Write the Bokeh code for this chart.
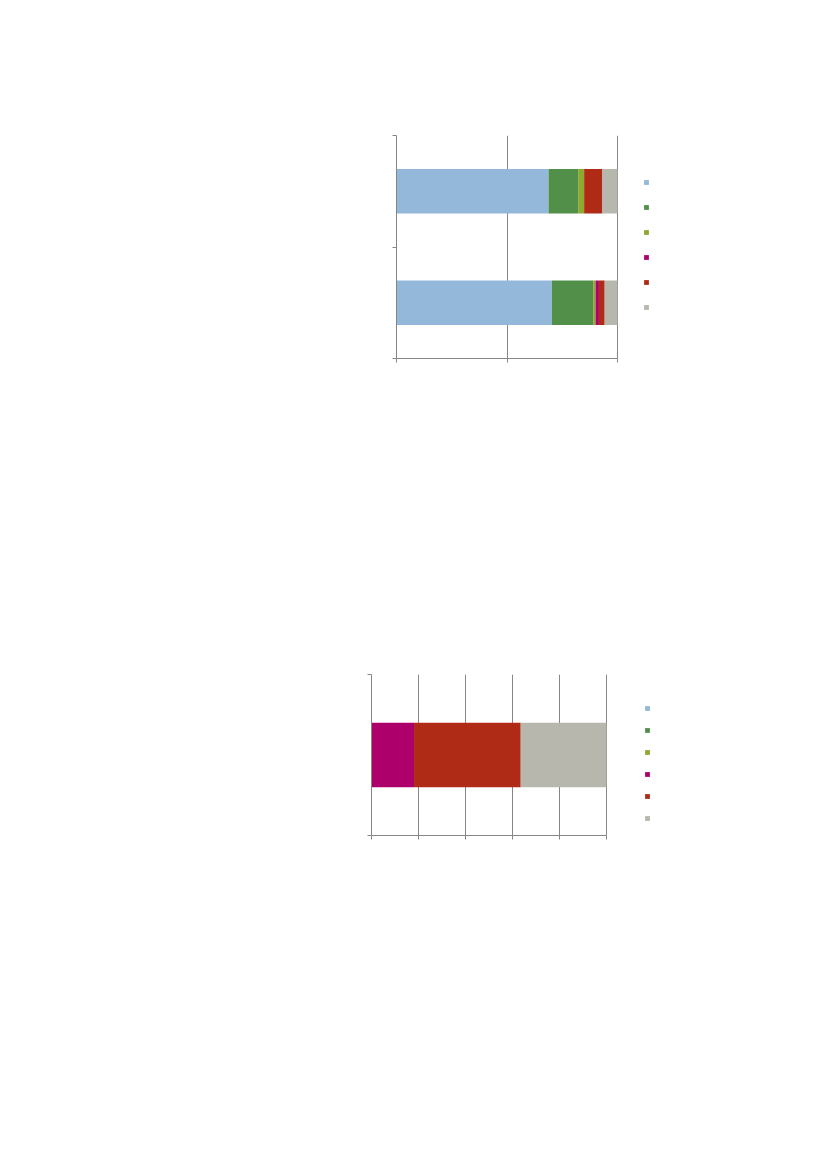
from bokeh.plotting import figure
from bokeh.models import (FixedTicker, CustomJSTickFormatter, Legend, LegendItem,
                          ColumnDataSource, Range1d)
from bokeh.embed import file_html
from bokeh.resources import INLINE

# ---- data ----
series = ["S1", "S2", "S3", "S4", "S5", "S6"]
colors = ["#93B8D9", "#52904A", "#8DA92F", "#AE006B", "#AF2B16", "#B7B7AE"]

# chart 1: two categories (bottom, top), shares in %
cats1 = ["A", "B"]
s1_1 = [70.3, 68.8]
s2_1 = [18.7, 13.4]
s3_1 = [1.1, 2.7]
s4_1 = [1.5, 0.0]
s5_1 = [2.6, 8.1]
s6_1 = [5.8, 7.0]

# chart 2: one category, shares in %
cats2 = ["A"]
s1_2 = [0.0]
s2_2 = [0.0]
s3_2 = [0.0]
s4_2 = [18.1]
s5_2 = [45.4]
s6_2 = [36.5]

ticks1 = [0, 50, 100]
ticks2 = [0, 20, 40, 60, 80, 100]

AXIS = "#868686"
blank = CustomJSTickFormatter(code="return ''")


def make_chart(cats, vals, xticks, frame_w_axis, frame_w, frame_h, left, top,
               bottom, leg_x, leg_bottom, leg_spacing):
    n = len(cats)
    data = {"y": [i + 0.5 for i in range(n)]}
    for name, v in zip(series, vals):
        data[name] = v
    src = ColumnDataSource(data)
    xmax = 100.0 * frame_w / frame_w_axis
    p = figure(output_backend="svg", toolbar_location=None,
               frame_width=frame_w, frame_height=frame_h,
               x_range=Range1d(0, xmax), y_range=Range1d(0, n),
               min_border_left=left, min_border_top=top,
               min_border_bottom=bottom, min_border_right=5)
    p.outline_line_color = None
    p.background_fill_color = "white"
    renderers = p.hbar_stack(series, y="y", height=0.4, source=src,
                             color=colors, line_color=None)
    # axes
    p.xaxis.ticker = FixedTicker(ticks=xticks)
    p.xaxis.bounds = (0, 100)
    p.yaxis.ticker = FixedTicker(ticks=list(range(n + 1)))
    for ax in (p.xaxis, p.yaxis):
        ax.formatter = blank
        ax.axis_line_color = AXIS
        ax.major_tick_line_color = AXIS
        ax.major_tick_out = 4
        ax.major_tick_in = 0
        ax.minor_tick_line_color = None
        ax.major_label_standoff = 0
    p.xgrid.ticker = FixedTicker(ticks=xticks)
    p.xgrid.grid_line_color = AXIS
    p.xgrid.bounds = (0, 100)
    p.ygrid.grid_line_color = None
    # legend (no visible labels in reference)
    items = [LegendItem(label="", renderers=[r]) for r in renderers]
    leg = Legend(items=items, location=(leg_x, leg_bottom),
                 glyph_width=6, glyph_height=6, label_height=6,
                 label_text_font_size="1px", label_width=1,
                 spacing=leg_spacing, padding=0, margin=0,
                 border_line_color=None, background_fill_alpha=0,
                 label_standoff=0)
    p.add_layout(leg, "center")
    return p


vals1 = [s1_1, s2_1, s3_1, s4_1, s5_1, s6_1]
vals2 = [s1_2, s2_2, s3_2, s4_2, s5_2, s6_2]

# chart 1 frame: x 396..617, y 135..358 (page px)
p1 = make_chart(cats1, vals1, ticks1, 221, 380, 223, 396, 135, 60,
                247, 48, 19)
# chart 2 frame: x 371..606, y 674..835
p2 = make_chart(cats2, vals2, ticks2, 235, 405, 161, 371, 256, 60,
                273, 14, 16)

open("out.html", "w").write(file_html([p1, p2], INLINE))
